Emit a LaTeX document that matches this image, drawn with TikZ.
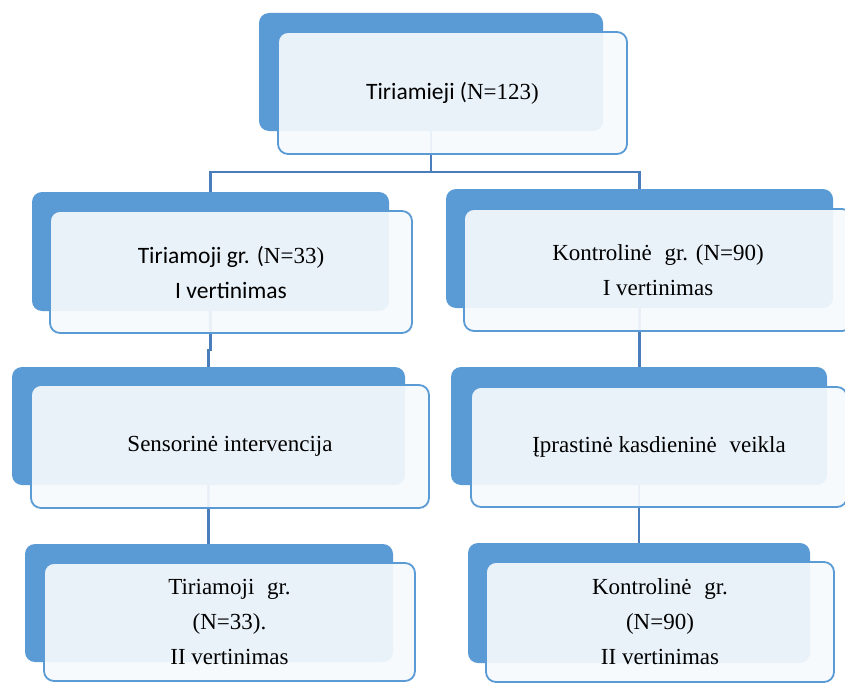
\documentclass[tikz,border=0pt]{standalone}
\usepackage{fontspec}
\setmainfont{Liberation Serif}
\newfontfamily\carl{Carlito}
\definecolor{backblue}{RGB}{91,155,213}
\definecolor{linkblue}{RGB}{74,126,187}
\definecolor{frontfill}{RGB}{247,250,253}
\begin{document}
\begin{tikzpicture}[x=1pt,y=-1pt,
  backbox/.style={draw=none, fill=backblue, rounded corners=10pt, inner sep=0pt, outer sep=0pt},
  frontbox/.style={draw=backblue, line width=1.8pt, fill=frontfill, fill opacity=0.92, text opacity=1,
    rounded corners=10pt, inner sep=0pt, outer sep=0pt, align=center,
    font=\fontsize{23}{35}\selectfont},
  link/.style={draw=linkblue, line width=2.2pt}]
\useasboundingbox[fill=white] (0,0) rectangle (845,682);
% back boxes
\node[backbox, minimum width=344pt, minimum height=118pt] (topB) at (431,72) {};
\node[backbox, minimum width=357pt, minimum height=119pt] (r2lB) at (210.5,251.5) {};
\node[backbox, minimum width=387pt, minimum height=119pt] (r2rB) at (639.5,248.5) {};
\node[backbox, minimum width=393pt, minimum height=118pt] (r3lB) at (208.5,426) {};
\node[backbox, minimum width=376pt, minimum height=118pt] (r3rB) at (639,426) {};
\node[backbox, minimum width=368pt, minimum height=118pt] (r4lB) at (209,603) {};
\node[backbox, minimum width=342pt, minimum height=120pt] (r4rB) at (639,603) {};
% connectors
\draw[link] (topB.south) -- ++(0,41) -| (r2lB.north);
\draw[link] (topB.south) -- ++(0,41) -| (r2rB.north);
\draw[link] (r2lB.south) -- ++(0,39) -| (r3lB.north);
\draw[link] (r3lB.south) -- (r3lB.south |- r4lB.north);
\draw[link] (r2rB.south) -- (r2rB.south |- r3rB.north);
\draw[link] (r3rB.south) -- (r3rB.south |- r4rB.north);
% front boxes
\node[frontbox, minimum width=349pt, minimum height=122pt] (top) at (452.5,93)
  {{\carl\fontsize{23.5}{35}\selectfont Tiriamieji (}N=123)};
\node[frontbox, minimum width=362pt, minimum height=122pt] (r2l) at (231,272)
  {{\carl\fontsize{23.5}{35}\selectfont Tiriamoji gr. (}N=33)\\{\carl\fontsize{23.5}{35}\selectfont I vertinimas}};
\node[frontbox, minimum width=388pt, minimum height=122pt] (r2r) at (658,270)
  {Kontrolinė\hspace{0.3em} gr. (N=90)\\I vertinimas};
\node[frontbox, minimum width=398pt, minimum height=123pt] (r3l) at (230,446.5)
  {Sensorinė intervencija};
\node[frontbox, minimum width=376pt, minimum height=120pt] (r3r) at (659,447)
  {Įprastinė kasdieninė\hspace{0.3em} veikla};
\node[frontbox, minimum width=371pt, minimum height=118pt] (r4l) at (229.5,622)
  {Tiriamoji\hspace{0.3em} gr.\\(N=33).\\II vertinimas};
\node[frontbox, minimum width=348pt, minimum height=120pt] (r4r) at (660,622)
  {Kontrolinė\hspace{0.3em} gr.\\(N=90)\\II vertinimas};
\end{tikzpicture}
\end{document}
